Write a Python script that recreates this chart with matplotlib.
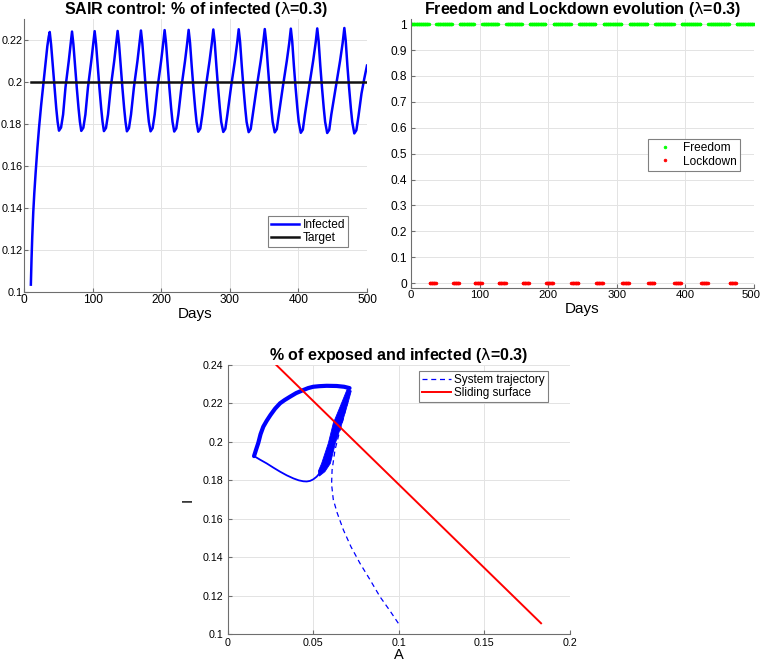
import matplotlib
matplotlib.use("Agg")
import matplotlib.pyplot as plt
import matplotlib.transforms as mtransforms
import numpy as np

plt.rcParams['font.family'] = ['Liberation Sans', 'DejaVu Sans']
plt.rcParams['mathtext.fontset'] = 'dejavusans'

# --- infected fraction over time ---
infected_days = [
    10, 11, 12, 13.5, 15, 17, 19.5, 22, 25, 28, 31, 34, 36,
    37.5, 39.5, 42, 44.5, 47, 49, 51, 54, 57, 60.5, 65.25, 68.1,
    70, 72, 74.5, 77, 79.5, 81.5, 83.5, 86.5, 89.5, 93.25, 98.1, 101.05,
    103, 105, 107.5, 110, 112.5, 114.5, 116.5, 119.5, 122.5, 126.5, 131.5, 134.5,
    136.5, 138.5, 141, 143.5, 146, 148, 150, 153, 156, 160.25, 165.4, 168.45,
    170.5, 172.5, 175, 177.5, 180, 182, 184.5, 187.5, 190.5, 194.75, 199.9, 202.95,
    205, 207, 209.5, 212, 214.5, 216.5, 219, 222, 225, 229.5, 234.75, 237.9,
    240, 242, 244.5, 247, 249.5, 251.5, 254, 257, 260, 265, 270.5, 273.8,
    276, 278, 280.5, 283, 285.5, 287.5, 290.5, 293.5, 296.5, 301.75, 307.4, 310.75,
    313, 315, 317.5, 320, 322.5, 324.5, 327.5, 330.5, 333.5, 339.25, 345.1, 348.65,
    351, 353, 355.5, 358, 360.5, 362.5, 365.5, 368.5, 371.5, 377.25, 383.1, 386.65,
    389, 391, 393.5, 396, 398.5, 400.5, 403.5, 406.5, 409.5, 415.5, 421.5, 425.1,
    427.5, 429.5, 432, 434.5, 437, 439, 442, 445, 448, 454.5, 460.75, 464.5,
    467, 469, 471.5, 474, 476.5, 478.5, 481.5, 484.5, 487.5, 492, 496, 500,
]
infected_vals = [
    0.1035, 0.116, 0.126, 0.138, 0.147, 0.157, 0.1685, 0.1785, 0.189, 0.1985, 0.2085, 0.217, 0.2215,
    0.2238, 0.2178, 0.2075, 0.197, 0.1875, 0.181, 0.1768, 0.1783, 0.1845, 0.1975, 0.210, 0.2185,
    0.2240, 0.2180, 0.2075, 0.197, 0.1875, 0.181, 0.1767, 0.1782, 0.1845, 0.1975, 0.210, 0.2185,
    0.2242, 0.2182, 0.2075, 0.197, 0.1875, 0.181, 0.1766, 0.1781, 0.1845, 0.1975, 0.210, 0.2185,
    0.2243, 0.2183, 0.2075, 0.197, 0.1875, 0.181, 0.1765, 0.1780, 0.1845, 0.1975, 0.210, 0.2185,
    0.2245, 0.2185, 0.2075, 0.197, 0.1875, 0.181, 0.1765, 0.1780, 0.1845, 0.1975, 0.210, 0.2185,
    0.2247, 0.2187, 0.2075, 0.197, 0.1875, 0.181, 0.1764, 0.1779, 0.1845, 0.1975, 0.210, 0.2185,
    0.2248, 0.2188, 0.2075, 0.197, 0.1875, 0.181, 0.1763, 0.1778, 0.1845, 0.1975, 0.210, 0.2185,
    0.2250, 0.2190, 0.2075, 0.197, 0.1875, 0.181, 0.1762, 0.1777, 0.1845, 0.1975, 0.210, 0.2185,
    0.2251, 0.2191, 0.2075, 0.197, 0.1875, 0.181, 0.1761, 0.1776, 0.1845, 0.1975, 0.210, 0.2185,
    0.2252, 0.2192, 0.2075, 0.197, 0.1875, 0.181, 0.1760, 0.1775, 0.1845, 0.1975, 0.210, 0.2185,
    0.2254, 0.2194, 0.2075, 0.197, 0.1875, 0.181, 0.1758, 0.1773, 0.1845, 0.1975, 0.210, 0.2185,
    0.2255, 0.2195, 0.2075, 0.197, 0.1875, 0.181, 0.1757, 0.1772, 0.1845, 0.1975, 0.210, 0.2185,
    0.2257, 0.2197, 0.2075, 0.197, 0.1875, 0.181, 0.1755, 0.1770, 0.1835, 0.1945, 0.2015, 0.2078,
]
target_days = [10, 500]
target_level = 0.2

# --- lockdown periods (days) ---
lockdown_start = [26.5, 60.5, 93, 128, 162.5, 197, 234, 270, 308, 345.5, 384, 423, 464.5]
lockdown_end = [36.5, 70.5, 103, 138, 172.5, 207, 244, 280, 318, 355.5, 394, 433, 474.5]

# --- phase plane (A, I) ---
traj_A = [0.0997, 0.0945, 0.089, 0.0830, 0.0773, 0.0720, 0.0676, 0.0640, 0.0617,
          0.0607, 0.0610, 0.0627, 0.0650, 0.0672, 0.0695, 0.0715]
traj_I = [0.1056, 0.1125, 0.1194, 0.1285, 0.1368, 0.1455, 0.1542, 0.1630, 0.1700,
          0.1780, 0.1854, 0.1958, 0.2040, 0.2110, 0.2190, 0.2262]
# lower (thin) part of the limit cycle
low_A = [0.0154, 0.0190, 0.0228, 0.0267, 0.0306, 0.0345, 0.0384, 0.0415, 0.0442, 0.0462,
         0.0481, 0.0500, 0.0520, 0.0540, 0.0559, 0.0580, 0.0598, 0.0637, 0.0676, 0.0705]
low_I = [0.1926, 0.1907, 0.1888, 0.1866, 0.1845, 0.1826, 0.1810, 0.1800, 0.1795, 0.1794,
         0.1797, 0.1805, 0.1819, 0.1840, 0.1871, 0.1912, 0.1958, 0.2060, 0.2170, 0.2262]
# upper (thick) arc of the limit cycle
arc_A = [0.0712, 0.0680, 0.0637, 0.0578, 0.0535, 0.0500, 0.0470, 0.0442, 0.0400, 0.0364,
         0.0333, 0.0306, 0.0277, 0.0250, 0.0228, 0.0208, 0.0192, 0.0179, 0.0166, 0.0154]
arc_I = [0.2280, 0.2287, 0.2291, 0.2292, 0.2290, 0.2287, 0.2280, 0.2270, 0.2254, 0.2235,
         0.2218, 0.2201, 0.2173, 0.2140, 0.2110, 0.2079, 0.2040, 0.1995, 0.1960, 0.1926]
# right band where successive cycles pile up
band_out_A = [0.0722, 0.0702, 0.0668, 0.0629, 0.0600, 0.0568, 0.0535]
band_out_I = [0.2265, 0.2200, 0.2097, 0.1993, 0.1888, 0.1845, 0.1822]
band_in_A = [0.0700, 0.0660, 0.0617, 0.0588, 0.0549, 0.0530, 0.0535]
band_in_I = [0.2278, 0.2190, 0.2097, 0.1993, 0.1888, 0.1848, 0.1822]
surface_A = [0.0251, 0.1831]
surface_I = [0.2429, 0.1056]

spine_c = '#6e6e6e'
grid_c = '#e3e3e3'


def style_axes(ax, xpad, ypad, size):
    for s in ['top', 'right']:
        ax.spines[s].set_visible(False)
    for s in ['left', 'bottom']:
        ax.spines[s].set_color(spine_c)
        ax.spines[s].set_linewidth(0.8)
    ax.grid(True, color=grid_c, linewidth=0.7)
    ax.set_axisbelow(True)
    ax.tick_params(direction='in', length=3, color=spine_c, labelsize=size)
    ax.tick_params(axis='x', pad=xpad)
    ax.tick_params(axis='y', pad=ypad)


def legend_box(ax, anchor, size):
    leg = ax.legend(loc='upper right', bbox_to_anchor=anchor, fontsize=size,
                    fancybox=False, framealpha=1, edgecolor='#808080',
                    borderpad=0.25, labelspacing=0.1, handlelength=2.4,
                    handletextpad=0.3, borderaxespad=0, numpoints=1)
    leg.get_frame().set_linewidth(0.8)
    return leg


lam = r'($\mathrm{\lambda}$=0.3)'
title_size = 11.5

fig = plt.figure(figsize=(7.62, 6.63), dpi=100)

# ---- top left: infected ----
ax1 = fig.add_axes([0.0315, 0.5596, 0.4501, 0.4118])
ax1.plot(infected_days, infected_vals, color='#0000ff', lw=1.8, label='Infected',
         solid_joinstyle='round')
ax1.plot(target_days, [target_level] * 2, color='#111111', lw=1.8, label='Target')
ax1.set_xlim(0, 500)
ax1.set_ylim(0.1, 0.23)
ax1.set_xticks([0, 100, 200, 300, 400, 500])
ax1.set_yticks([0.1, 0.12, 0.14, 0.16, 0.18, 0.2, 0.22])
ax1.set_yticklabels(['0.1', '0.12', '0.14', '0.16', '0.18', '0.2', '0.22'])
style_axes(ax1, 1.5, 1.2, 8.6)
ax1.tick_params(axis='y', labelsize=7.8)
ax1.set_xlabel('Days', fontsize=11, labelpad=1)
ax1.set_title('SAIR control: % of infected ' + lam, fontsize=title_size,
              fontweight='bold', pad=3)
legend_box(ax1, (0.9455, 0.278), 8.6)

# ---- top right: freedom / lockdown ----
days = np.arange(0, 501)
lock = np.zeros(days.shape, dtype=bool)
for s, e in zip(lockdown_start, lockdown_end):
    lock |= (days >= s) & (days <= e)

ax2 = fig.add_axes([0.5394, 0.5652, 0.4497, 0.4062])
ax2.plot(days[~lock], np.ones((~lock).sum()), '.', color='#00ff00', ms=4, mew=0.5,
         label='Freedom')
ax2.plot(days[lock], np.zeros(lock.sum()), '.', color='#ff0000', ms=4, mew=0.5,
         label='Lockdown')
ax2.set_xlim(0, 500)
ax2.set_ylim(-0.02, 1.02)
ax2.set_xticks([0, 100, 200, 300, 400, 500])
yt = [0, 0.1, 0.2, 0.3, 0.4, 0.5, 0.6, 0.7, 0.8, 0.9, 1]
ax2.set_yticks(yt)
ax2.set_yticklabels(['0', '0.1', '0.2', '0.3', '0.4', '0.5', '0.6', '0.7', '0.8', '0.9', '1'])
style_axes(ax2, 1.5, 3, 8.6)
ax2.tick_params(axis='x', labelsize=8.2)
last = ax2.get_xticklabels()[-1]
last.set_transform(last.get_transform() +
                   mtransforms.ScaledTranslation(-2 / 72, 0, fig.dpi_scale_trans))
ax2.set_xlabel('Days', fontsize=11, labelpad=1)
ax2.set_title('Freedom and Lockdown evolution ' + lam, fontsize=title_size,
              fontweight='bold', pad=3)
legend_box(ax2, (0.960, 0.553), 8.6)

# ---- bottom: phase plane ----
ax3 = fig.add_axes([0.2988, 0.0437, 0.4492, 0.4057])
ax3.fill(band_out_A + band_in_A[::-1], band_out_I + band_in_I[::-1],
         color='#0000ff', lw=0.6)
ax3.plot(low_A, low_I, color='#0000ff', lw=1.3, solid_joinstyle='round')
ax3.plot(arc_A, arc_I, color='#0000ff', lw=3.0, solid_capstyle='round',
         solid_joinstyle='round')
ax3.plot(traj_A, traj_I, color='#0000ff', lw=0.9, dashes=(4, 3),
         label='System trajectory')
ax3.plot(surface_A, surface_I, color='#ff0000', lw=1.4, label='Sliding surface')
ax3.set_xlim(0, 0.2)
ax3.set_ylim(0.1, 0.24)
ax3.set_xticks([0, 0.05, 0.1, 0.15, 0.2])
ax3.set_xticklabels(['0', '0.05', '0.1', '0.15', '0.2'])
ax3.set_yticks([0.1, 0.12, 0.14, 0.16, 0.18, 0.2, 0.22, 0.24])
ax3.set_yticklabels(['0.1', '0.12', '0.14', '0.16', '0.18', '0.2', '0.22', '0.24'])
style_axes(ax3, 3, 3, 7.7)
ax3.set_xlabel('A', fontsize=10.5, labelpad=0)
ax3.set_ylabel('I', fontsize=11, labelpad=6)
ax3.set_title('% of exposed and infected ' + lam, fontsize=title_size,
              fontweight='bold', pad=3)
legend_box(ax3, (0.935, 0.979), 8.5)

fig.savefig('out.png', dpi=100)
